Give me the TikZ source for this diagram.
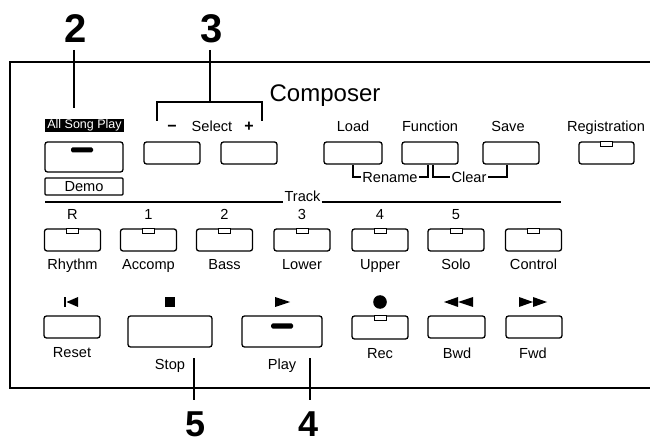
\documentclass[tikz,border=0pt]{standalone}
\usepackage{fontspec}
\setmainfont{Liberation Sans}
\begin{document}
\begin{tikzpicture}[x=1pt,y=-1pt,
  btn/.style={draw,line width=1.3pt,rounded corners=2.5pt,inner sep=0pt},
  led/.style={draw,line width=0.9pt,inner sep=0pt,minimum width=12pt,minimum height=5pt,fill=white},
  bar/.style={fill=black,rounded corners=1.5pt,inner sep=0pt,minimum width=22pt,minimum height=5pt},
  lbl/.style={font=\fontsize{14.6}{14.6}\selectfont,inner sep=0pt,anchor=base},
  big/.style={font=\fontsize{40}{40}\selectfont\bfseries,inner sep=0pt,anchor=base,text depth=0pt},
  frame/.style={line width=1.6pt},
  thin/.style={line width=1.2pt}]
\useasboundingbox (0,0) rectangle (650,443);
% frame
\coordinate (ftr) at (650,62);
\coordinate (fbr) at (650,388);
\draw[frame] (ftr) -- (10,62) -- (10,388) -- (fbr);
% callouts
\node[big] (n2) at (76,43) {2};
\node[big] (n3) at (212,43) {3};
\node[big,font=\fontsize{36}{36}\selectfont\bfseries] (n5) at (196,436) {5};
\node[big,font=\fontsize{36}{36}\selectfont\bfseries] (n4) at (309,436) {4};
% Composer
\node[lbl,font=\fontsize{24}{24}\selectfont] (comp) at (325,102) {Composer};
% All Song Play
\node[fill=black,text=white,inner sep=0pt,minimum width=79pt,minimum height=13pt,font=\fontsize{12.5}{12.5}\selectfont] (asp) at (84.5,125.5) {All Song Play};
\node[btn,minimum width=78pt,minimum height=30pt] (aspb) at (84,157) {};
\node[bar] (aspbar) at (82,150) {};
\node[draw,line width=1.2pt,rounded corners=1pt,minimum width=78pt,minimum height=17pt,inner sep=0pt] (demo) at (84,186.5) {};
\node[lbl] (demot) at (84,191.5) {Demo};
\coordinate (c2top) at (74,50);
\coordinate (c2bot) at (74,108);
\draw[thin] (c2top) -- (c2bot);
% Select
\node[lbl] (selt) at (212,132) {Select};
\node[lbl,font=\fontsize{16}{16}\selectfont\bfseries] (minus) at (172,132) {−};
\node[lbl,font=\fontsize{16}{16}\selectfont\bfseries] (plus) at (249,132) {+};
\node[btn,minimum width=56pt,minimum height=22pt] (sm) at (172,153) {};
\node[btn,minimum width=56pt,minimum height=22pt] (sp) at (249,153) {};
\coordinate (b3l) at (157,121);
\coordinate (b3r) at (262,121);
\coordinate (c3top) at (210,50);
\coordinate (c3bot) at (210,102);
\draw[thin] (b3l) -- (157,102) -- (262,102) -- (b3r);
\draw[thin] (c3top) -- (c3bot);
% Load Function Save Registration
\node[lbl] (loadt) at (353,132) {Load};
\node[lbl] (funct) at (430,132) {Function};
\node[lbl] (savet) at (508,132) {Save};
\node[lbl] (regt) at (606,132) {Registration};
\node[btn,minimum width=58pt,minimum height=22pt] (load) at (353,153) {};
\node[btn,minimum width=56pt,minimum height=22pt] (func) at (430,153) {};
\node[btn,minimum width=56pt,minimum height=22pt] (save) at (511,153) {};
\node[btn,minimum width=55pt,minimum height=22pt] (reg) at (606.5,153) {};
\node[led,anchor=north] (regled) at (reg.north) {};
% Rename / Clear
\node[lbl,inner xsep=1.5pt] (ren) at (390,183) {Rename};
\node[lbl,inner xsep=1.5pt] (clr) at (469,183) {Clear};
\draw[thin] (353,165) -- (353,177) -- (ren.west |- 0,177);
\draw[thin] (ren.east |- 0,177) -- (428,177) -- (428,165);
\draw[thin] (433,165) -- (433,177) -- (clr.west |- 0,177);
\draw[thin] (clr.east |- 0,177) -- (507,177) -- (507,165);
% Track line
\node[lbl,inner xsep=1pt] (track) at (302.5,202) {Track};
\draw[thin] (45,202) -- (track.base west);
\draw[thin] (track.base east) -- (561,202);
% Track buttons
\foreach \nm/\x/\num/\lab in {rhy/72.5/R/Rhythm, acc/148.5/1/Accomp, bas/224.5/2/Bass, low/302/3/Lower, upp/380/4/Upper, sol/456/5/Solo, con/533.5//Control}{
  \node[lbl] (\nm n) at (\x,220) {\num};
  \node[btn,minimum width=56pt,minimum height=22pt] (\nm) at (\x,240) {};
  \node[led,anchor=north] (\nm led) at (\nm.north) {};
  \node[lbl] (\nm t) at (\x,270) {\lab};
}
% bottom row
\node[btn,minimum width=56pt,minimum height=22pt] (reset) at (72,327) {};
\node[btn,minimum width=84pt,minimum height=31pt] (stop) at (170,331.5) {};
\node[btn,minimum width=80pt,minimum height=31pt] (play) at (282,331.5) {};
\node[bar] (playbar) at (282,326) {};
\node[btn,minimum width=56pt,minimum height=23pt] (rec) at (380,327.5) {};
\node[led,anchor=north] (recled) at (rec.north) {};
\node[btn,minimum width=57pt,minimum height=22pt] (bwd) at (456.5,327) {};
\node[btn,minimum width=56pt,minimum height=22pt] (fwd) at (534,327) {};
\node[lbl] (resett) at (72,357) {Reset};
\node[lbl] (stopt) at (170,369) {Stop};
\node[lbl] (playt) at (282,369) {Play};
\node[lbl] (rect) at (380,358) {Rec};
\node[lbl] (bwdt) at (457,358) {Bwd};
\node[lbl] (fwdt) at (533,358) {Fwd};
% symbols
\fill (64,297) rectangle (66,307);
\fill (66.5,302) -- (78,297) -- (78,307) -- cycle;
\fill (165,297) rectangle (175,307);
\fill (275,297) -- (290,302) -- (275,307) -- cycle;
\fill (380,302) circle (6.8);
\fill (444,302) -- (458,297) -- (458,307) -- cycle;
\fill (458,302) -- (473,297) -- (473,307) -- cycle;
\fill (519,297) -- (533,302) -- (519,307) -- cycle;
\fill (533,297) -- (547,302) -- (533,307) -- cycle;
% callout lines 5 and 4
\coordinate (c5top) at (194,358);
\coordinate (c5bot) at (194,400);
\coordinate (c4top) at (310,358);
\coordinate (c4bot) at (310,400);
\draw[thin] (c5top) -- (c5bot);
\draw[thin] (c4top) -- (c4bot);
\end{tikzpicture}
\end{document}
